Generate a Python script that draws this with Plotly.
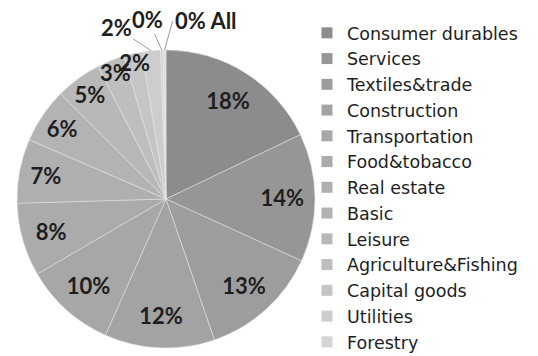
import math
import plotly.graph_objects as go

categories = ["Consumer durables", "Services", "Textiles&trade", "Construction",
              "Transportation", "Food&tobacco", "Real estate", "Basic", "Leisure",
              "Agriculture&Fishing", "Capital goods", "Utilities", "Forestry", "All"]
values = [18, 14, 13, 12, 10, 8, 7, 6, 5, 3, 2, 2, 0.3, 0.3]
colors = ["#8c8c8c", "#969696", "#9d9d9d", "#a3a3a3", "#a7a7a7", "#ababab", "#afafaf",
          "#b3b3b3", "#b8b8b8", "#bebebe", "#c5c5c5", "#cdcdcd", "#d5d5d5", "#dedede"]
legend_cats = categories[:13]
outside_idx = [11, 12, 13]          # slices labelled outside with leader lines
outside_with_name = [13]            # label also shows the category name

# layout / style
W, H = 538, 356
dom = dict(x=[0.0316, 0.5855], y=[0.0225, 0.8596])
label_offsets = {11: (-35, -23), 12: (-14, -31), 13: (8, -29)}   # text offset from slice edge (px)
label_anchor = {11: "center", 12: "center", 13: "left"}
lab_font = dict(family="Lato", size=22, color="#1e1e1e", weight="bold")

text_pos = ["none" if i in outside_idx else "inside" for i in range(len(values))]

fig = go.Figure()
# full disc
fig.add_trace(go.Pie(
    labels=categories, values=values, sort=False, direction="clockwise", rotation=0,
    marker=dict(colors=colors, line=dict(color="#e6e6e6", width=0.5)), textinfo="none",
    showlegend=False, legend="legend2", hoverinfo="skip", domain=dom,
))
# transparent ring carrying the inside labels (places them further out, like the original)
fig.add_trace(go.Pie(
    labels=categories, values=values, sort=False, direction="clockwise", rotation=0,
    hole=0.56,
    marker=dict(colors=["rgba(0,0,0,0)"] * len(values), line=dict(width=0)),
    textposition=text_pos, texttemplate="%{percent:.0%}",
    insidetextorientation="horizontal",
    textfont=lab_font,
    showlegend=False, legend="legend2", hoverinfo="label+percent", domain=dom,
))

# outside labels with leader lines, anchored at the slice edge computed from the data
total = sum(values)
R = min(W * (dom["x"][1] - dom["x"][0]), H * (dom["y"][1] - dom["y"][0])) / 2
cx = W * (dom["x"][0] + dom["x"][1]) / 2
cy = H * (1 - (dom["y"][0] + dom["y"][1]) / 2)
for i in outside_idx:
    start = sum(values[:i]) / total
    mid = start + values[i] / total / 2
    th = 2 * math.pi * mid
    px = cx + R * math.sin(th)
    py = cy - R * math.cos(th)
    txt = f"{values[i] / total:.0%}"
    if i in outside_with_name:
        txt += " " + categories[i]
    ax, ay = label_offsets[i]
    fig.add_annotation(x=px / W, y=1 - py / H, xref="paper", yref="paper",
                       text=txt, showarrow=True, arrowhead=0, arrowwidth=1,
                       arrowcolor="#9a9a9a", ax=ax, ay=ay, standoff=0,
                       xanchor=label_anchor[i], font=lab_font)

for c, col in zip(legend_cats, colors):
    fig.add_trace(go.Scatter(x=[None], y=[None], mode="markers", name=c,
                             marker=dict(symbol="square", size=11, color=col)))

fig.update_layout(
    width=W, height=H, margin=dict(l=0, r=0, t=0, b=0, autoexpand=False),
    paper_bgcolor="white", plot_bgcolor="white",
    xaxis=dict(visible=False), yaxis=dict(visible=False),
    uniformtext=dict(minsize=22, mode="show"),
    legend=dict(x=0.5706, y=0.958, xanchor="left", yanchor="top",
                font=dict(family="DejaVu Sans", size=17.5, color="#1e1e1e"),
                itemwidth=30, tracegroupgap=0, bgcolor="rgba(0,0,0,0)"),
    legend2=dict(visible=False),
)
fig.write_html("out.html")
